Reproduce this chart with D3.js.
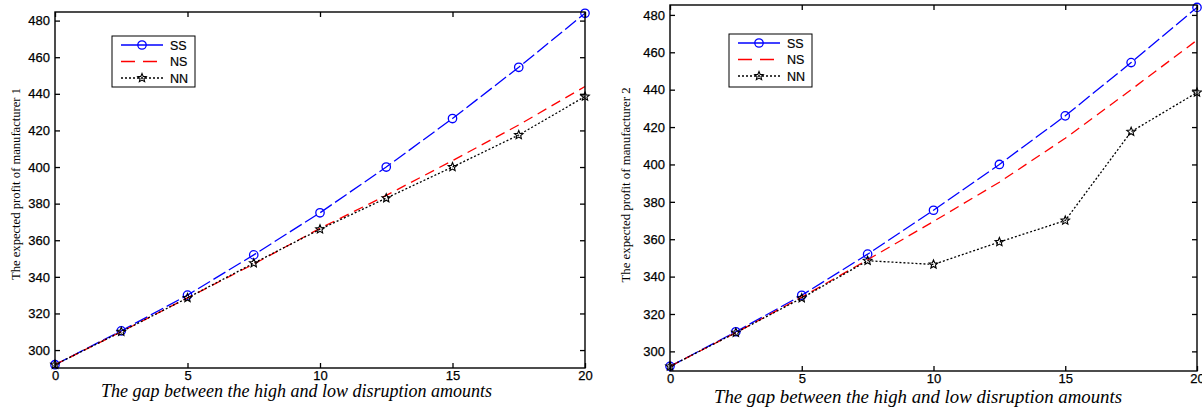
<!DOCTYPE html>
<html><head><meta charset="utf-8">
<script src="https://cdn.jsdelivr.net/npm/d3@7"></script>
<style>body{margin:0;background:#fff}svg{display:block}</style>
</head><body>
<svg id="c" width="1202" height="412"></svg>
<script>
const gaps = [0, 2.5, 5, 7.5, 10, 12.5, 15, 17.5, 20];
const seriesNames = ["SS", "NS", "NN"];
const ss1 = [292, 310.5, 330, 352, 375, 400, 426.5, 454.5, 484];
const ns1 = [292, 310, 328.5, 347, 366.5, 384.5, 403.5, 423, 444];
const nn1 = [292, 310, 328.5, 347.5, 366, 383, 400, 417.5, 438.5];
const ss2 = [292, 310.5, 330, 352, 375.5, 400, 426, 454.5, 484];
const ns2 = [292, 310, 329, 349, 369.5, 390.5, 414, 440, 466.5];
const nn2 = [292, 310, 328.5, 348.5, 346.5, 358.5, 370, 417.5, 438.5];
const yTicks = [300, 320, 340, 360, 380, 400, 420, 440, 460, 480];
const xTicks = [0, 5, 10, 15, 20];
const xTitle = "The gap between the high and low disruption amounts";
const yTitles = ["The expected profit of manufacturer 1", "The expected profit of manufacturer 2"];

const svg = d3.select("#c");
const styles = {
  SS: {color: "#0000ff", dash: "14,4", marker: "circle"},
  NS: {color: "#ff0000", dash: "10,6", marker: null},
  NN: {color: "#000000", dash: "2,2", marker: "star"}
};

function starPath(r) {
  const pts = [];
  for (let i = 0; i < 10; i++) {
    const a = -Math.PI / 2 + i * Math.PI / 5;
    const rr = i % 2 === 0 ? r : r * 0.45;
    pts.push([rr * Math.cos(a), rr * Math.sin(a)]);
  }
  return "M" + pts.map(p => p.join(",")).join("L") + "Z";
}

function drawMarker(g, type, x, y, color) {
  if (type === "circle") {
    g.append("circle").attr("cx", x).attr("cy", y).attr("r", 4.2)
      .attr("fill", "none").attr("stroke", color).attr("stroke-width", 1.3);
  } else if (type === "star") {
    g.append("path").attr("d", starPath(4.5)).attr("transform", `translate(${x},${y})`)
      .attr("fill", "none").attr("stroke", color).attr("stroke-width", 1.1);
  }
}

function drawChart(cfg) {
  const {left, right, top, bottom, data, yTitle, yTitleX, yTitleY, xTitleX, xTitleY, xTitleSize, yTitleSize} = cfg;
  const x = d3.scaleLinear().domain([0, 20]).range([left, right]);
  const y = d3.scaleLinear().domain(cfg.yDomain).range([bottom, top]);
  const g = svg.append("g");

  seriesNames.forEach((name, si) => {
    const st = styles[name];
    const vals = data[si];
    const line = d3.line().x((d, i) => x(gaps[i])).y(d => y(d));
    g.append("path").datum(vals).attr("d", line).attr("fill", "none")
      .attr("stroke", st.color).attr("stroke-width", 1.3).attr("stroke-dasharray", st.dash);
    if (st.marker) vals.forEach((v, i) => drawMarker(g, st.marker, x(gaps[i]), y(v), st.color));
  });

  g.append("rect").attr("x", left).attr("y", top).attr("width", right - left).attr("height", bottom - top)
    .attr("fill", "none").attr("stroke", "#000").attr("stroke-width", 1.4);

  const tl = 5;
  const axB = d3.axisBottom(x).tickValues(xTicks).tickSizeInner(-tl).tickSizeOuter(0).tickPadding(3);
  const axL = d3.axisLeft(y).tickValues(yTicks).tickSizeInner(-tl).tickSizeOuter(0).tickPadding(5);
  const axT = d3.axisTop(x).tickValues(xTicks).tickSizeInner(-tl).tickSizeOuter(0).tickFormat("");
  const axR = d3.axisRight(y).tickValues(yTicks).tickSizeInner(-tl).tickSizeOuter(0).tickFormat("");
  const fontStyle = s => s.selectAll("text").attr("font-family", "Liberation Sans, Arial, sans-serif")
      .attr("font-size", 13).attr("fill", "#000").attr("stroke", "#000").attr("stroke-width", 0.25);
  const clean = s => { s.select(".domain").remove(); s.selectAll("line").attr("stroke", "#000").attr("stroke-width", 1.3); };
  g.append("g").attr("transform", `translate(0,${bottom})`).call(axB).call(clean).call(fontStyle);
  g.append("g").attr("transform", `translate(${left},0)`).call(axL).call(clean).call(fontStyle);
  g.append("g").attr("transform", `translate(0,${top})`).call(axT).call(clean);
  g.append("g").attr("transform", `translate(${right},0)`).call(axR).call(clean);

  g.append("text").attr("x", xTitleX).attr("y", xTitleY).attr("text-anchor", "start")
    .attr("font-family", "Liberation Serif, Times New Roman, serif").attr("font-style", "italic")
    .attr("font-size", xTitleSize).text(xTitle);
  g.append("text").attr("transform", `translate(${yTitleX},${yTitleY}) rotate(-90)`)
    .attr("text-anchor", "middle").attr("font-family", "Liberation Serif, Times New Roman, serif")
    .attr("font-size", yTitleSize).text(yTitle);

  const L = cfg.legend;
  g.append("rect").attr("x", L.x).attr("y", L.y).attr("width", L.w).attr("height", L.h)
    .attr("fill", "#fff").attr("stroke", "#000").attr("stroke-width", 1);
  seriesNames.forEach((name, i) => {
    const st = styles[name];
    const ly = L.y + 9 + i * 16.5;
    const x1 = L.x + 9, x2 = L.x + 51;
    g.append("line").attr("x1", x1).attr("x2", x2).attr("y1", ly).attr("y2", ly)
      .attr("stroke", st.color).attr("stroke-width", 1.3)
      .attr("stroke-dasharray", name === "SS" ? null : (name === "NS" ? "14,8" : "2,2"));
    if (st.marker) drawMarker(g, st.marker, (x1 + x2) / 2, ly, st.color);
    g.append("text").attr("x", x2 + 7).attr("y", ly + 4.5)
      .attr("font-family", "Liberation Sans, Arial, sans-serif").attr("font-size", 12.5)
      .attr("stroke", "#000").attr("stroke-width", 0.2).text(name);
  });
}

drawChart({left: 55, right: 585, top: 12, bottom: 368, yDomain: [290.2, 484.7],
  data: [ss1, ns1, nn1], yTitle: yTitles[0], yTitleX: 19.5, yTitleY: 184, yTitleSize: 12.6,
  xTitleX: 101, xTitleY: 397, xTitleSize: 18,
  legend: {x: 112, y: 36, w: 83, h: 51}});
drawChart({left: 670, right: 1197, top: 5, bottom: 371, yDomain: [289.5, 485.3],
  data: [ss2, ns2, nn2], yTitle: yTitles[1], yTitleX: 629.5, yTitleY: 185, yTitleSize: 12.8,
  xTitleX: 714, xTitleY: 403, xTitleSize: 18.8,
  legend: {x: 729, y: 34, w: 83, h: 53}});
</script>
</body></html>
